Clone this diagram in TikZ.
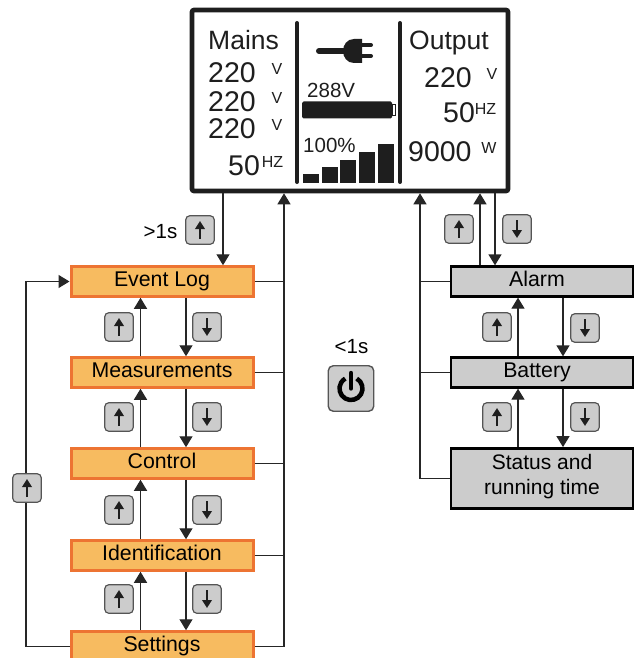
\documentclass[tikz,border=0pt]{standalone}
\usepackage{fontspec}
\setmainfont{Liberation Sans}
\usepackage{xcolor}
\usetikzlibrary{arrows.meta}
\definecolor{MenuFill}{RGB}{247,187,96}
\definecolor{MenuEdge}{RGB}{237,116,50}
\definecolor{KeyFill}{RGB}{204,204,204}
\definecolor{KeyEdge}{RGB}{85,85,85}
\definecolor{LcdInk}{RGB}{30,30,30}
\newcommand{\fsz}[1]{\fontsize{#1}{#1}\selectfont}

\begin{document}
\begin{tikzpicture}[
  x=1pt,y=-1pt,
  conn/.style={draw=black!85,line width=1.3pt,-{Triangle[length=11pt,width=13pt]}},
  wire/.style={draw=black!85,line width=1.3pt},
  menubox/.style={draw=MenuEdge,fill=MenuFill,line width=3pt,minimum width=182,minimum height=29.5,inner sep=0pt,text height=15pt,text depth=4.5pt,font=\fsz{21.3}},
  infobox/.style={draw=black,fill=KeyFill,line width=2.8pt,minimum width=182,minimum height=29.5,inner sep=0pt,text height=15pt,text depth=4.5pt,font=\fsz{21.3}},
  keybox/.style={draw=KeyEdge,fill=KeyFill,line width=1.2pt,rounded corners=4pt,minimum size=28.5,inner sep=0pt},
  keyup/.style={keybox,path picture={\draw[keymark] ([yshift=-9pt]path picture bounding box.center) -- ([yshift=9pt]path picture bounding box.center);}},
  keydown/.style={keybox,path picture={\draw[keymark] ([yshift=9pt]path picture bounding box.center) -- ([yshift=-9pt]path picture bounding box.center);}},
  keymark/.style={draw=LcdInk,line width=2.4pt,-{Triangle[length=8pt,width=9.5pt]}},
  lcdtitle/.style={anchor=base west,inner sep=0pt,text=LcdInk,font=\fsz{26.5}},
  lcdbig/.style={anchor=base west,inner sep=0pt,text=LcdInk,font=\fsz{28.5}},
  lcdmid/.style={anchor=base west,inner sep=0pt,text=LcdInk,font=\fsz{20.5}},
  lcdunit/.style={anchor=base,inner sep=0pt,text=LcdInk,font=\fsz{16}},
  note/.style={inner sep=0pt,font=\fsz{20.5}}]
\path[use as bounding box] (0,0) rectangle (635,658);
% display
\node[draw=LcdInk,fill=white,line width=4.6pt,rounded corners=2pt,minimum width=316,minimum height=181,inner sep=0pt] (lcd) at (350,100.5) {};
\draw[LcdInk,line width=4pt,line cap=round] (297,23) -- (297,182);
\draw[LcdInk,line width=4pt,line cap=round] (400,23) -- (400,182);
\node[lcdtitle] (mains) at (208,50) {Mains};
\node[lcdbig] (mainsA) at (208,83) {220};
\node[lcdbig] (mainsB) at (208,112) {220};
\node[lcdbig] (mainsC) at (208,139) {220};
\node[lcdbig] (mainsF) at (228,175) {50};
\node[lcdunit] (unitA) at (277,75) {V};
\node[lcdunit] (unitB) at (277,103) {V};
\node[lcdunit] (unitC) at (277,130) {V};
\node[lcdunit] (unitF) at (272.5,167) {HZ};
\node[lcdtitle] (output) at (409,50) {Output};
\node[lcdbig] (outV) at (424,88) {220};
\node[lcdbig] (outF) at (443,123) {50};
\node[lcdbig] (outW) at (408,161) {9000};
\node[lcdunit] (unitOutV) at (492,80) {V};
\node[lcdunit] (unitOutF) at (485.5,115) {HZ};
\node[lcdunit] (unitOutW) at (489,153) {W};
% plug
\draw[LcdInk,line width=6pt,line cap=round] (319,51) -- (346,51);
\fill[LcdInk] (362,39) -- (354,39) .. controls (347,39) and (343,45) .. (343,51) .. controls (343,57) and (347,63) .. (354,63) -- (362,63) -- cycle;
\draw[LcdInk,line width=4pt,line cap=round] (362,45) -- (371,45);
\draw[LcdInk,line width=4pt,line cap=round] (362,56) -- (371,56);
% battery
\node[lcdmid] (volts) at (307,98) {288V};
\fill[LcdInk,rounded corners=1.5pt] (302,101.5) rectangle (392,118.5);
\draw[LcdInk,line width=1pt] (392,105) rectangle (395.5,116);
\node[lcdmid] (percent) at (303,152) {100\%};
\fill[LcdInk] (303,174) rectangle (319,183);
\fill[LcdInk] (322,167) rectangle (338,183);
\fill[LcdInk] (340,160) rectangle (356,183);
\fill[LcdInk] (359,152) rectangle (375,183);
\fill[LcdInk] (378,144) rectangle (394,183);
% menus
\node[menubox] (log) at (162,281.5) {Event Log};
\node[menubox] (meas) at (162,372.5) {Measurements};
\node[menubox] (ctrl) at (162,463.5) {Control};
\node[menubox] (ident) at (162,555.5) {Identification};
\node[menubox] (sett) at (162,646.5) {Settings};
\node[infobox] (alarm) at (542,281.5) {\hspace*{-10pt}Alarm};
\node[infobox] (batt) at (542,372.5) {\hspace*{-10pt}Battery};
\node[infobox,minimum height=60,align=center,text height={},text depth=7.5pt,font=\fontsize{21}{25}\selectfont] (stat) at (542,478.5) {Status and\\running time};
% columns
\coordinate (colIn) at (223,0);
\coordinate (colBus) at (284,0);
\coordinate (colUp) at (140.5,0);
\coordinate (colDown) at (186,0);
\coordinate (colLoop) at (26,0);
\coordinate (colRBus) at (420,0);
\coordinate (colAUp) at (480,0);
\coordinate (colADown) at (495,0);
\coordinate (colRUp) at (518,0);
\coordinate (colRDown) at (563,0);
% left side
\draw[conn] (colIn |- lcd.south) -- (colIn |- log.north);
\draw[conn] (sett.east) -| (colBus |- lcd.south);
\draw[wire] (log.east) -- (colBus |- log.east);
\draw[wire] (meas.east) -- (colBus |- meas.east);
\draw[wire] (ctrl.east) -- (colBus |- ctrl.east);
\draw[wire] (ident.east) -- (colBus |- ident.east);
\draw[conn] (colUp |- meas.north) -- (colUp |- log.south);
\draw[conn] (colUp |- ctrl.north) -- (colUp |- meas.south);
\draw[conn] (colUp |- ident.north) -- (colUp |- ctrl.south);
\draw[conn] (colUp |- sett.north) -- (colUp |- ident.south);
\draw[conn] (colDown |- log.south) -- (colDown |- meas.north);
\draw[conn] (colDown |- meas.south) -- (colDown |- ctrl.north);
\draw[conn] (colDown |- ctrl.south) -- (colDown |- ident.north);
\draw[conn] (colDown |- ident.south) -- (colDown |- sett.north);
\draw[conn] (sett.west) -- (colLoop |- sett.west) -- (colLoop |- log.west) -- (log.west);
% right side
\draw[conn] (stat.west) -| (colRBus |- lcd.south);
\draw[wire] (alarm.west) -- (colRBus |- alarm.west);
\draw[wire] (batt.west) -- (colRBus |- batt.west);
\draw[conn] (colAUp |- alarm.north) -- (colAUp |- lcd.south);
\draw[conn] (colADown |- lcd.south) -- (colADown |- alarm.north);
\draw[conn] (colRUp |- batt.north) -- (colRUp |- alarm.south);
\draw[conn] (colRUp |- stat.north) -- (colRUp |- batt.south);
\draw[conn] (colRDown |- alarm.south) -- (colRDown |- batt.north);
\draw[conn] (colRDown |- batt.south) -- (colRDown |- stat.north);
% keys
\node[note] (longpress) at (160.5,232) {>1s};
\node[keyup] (keyIn) at (200,230) {};
\node[keyup] (keyUpA) at (119,327) {};
\node[keyup] (keyUpB) at (119,417) {};
\node[keyup] (keyUpC) at (119,510) {};
\node[keyup] (keyUpD) at (119,599) {};
\node[keydown] (keyDownA) at (207,327) {};
\node[keydown] (keyDownB) at (207,417) {};
\node[keydown] (keyDownC) at (207,510) {};
\node[keydown] (keyDownD) at (207,599) {};
\node[keyup] (keyLoop) at (27,488) {};
\node[keyup] (keyAUp) at (459,229) {};
\node[keydown] (keyADown) at (517,229) {};
\node[keyup] (keyRUpA) at (497,327) {};
\node[keydown] (keyRDownA) at (585,328) {};
\node[keyup] (keyRUpB) at (497,417) {};
\node[keydown] (keyRDownB) at (585,417) {};
% power key
\node[note] (shortpress) at (351.5,347) {<1s};
\node[keybox,minimum size=45.5,rounded corners=5pt,line width=1.4pt] (power) at (351,388.5) {};
\draw[black,line width=4.5pt] (power.center) ++(-60:11.5) arc[start angle=-60,end angle=240,radius=11.5];
\draw[black,line width=4.4pt,line cap=round] ([yshift=15.5pt]power.center) -- (power.center);
\end{tikzpicture}
\end{document}
